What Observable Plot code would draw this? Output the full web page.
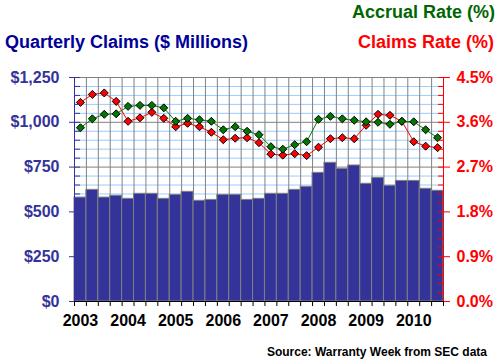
<!DOCTYPE html>
<html><head><meta charset="utf-8">
<script src="https://cdn.jsdelivr.net/npm/d3@7"></script>
<script src="https://cdn.jsdelivr.net/npm/@observablehq/plot@0.6"></script>
<style>
body{margin:0;background:#fff;}
#wrap{position:relative;width:500px;height:363px;font-family:"Liberation Sans",Arial,sans-serif;font-weight:bold;overflow:hidden;}
#chart{position:absolute;left:0;top:0;}
.t{position:absolute;white-space:nowrap;line-height:1;}
</style></head><body>
<div id="wrap">
  <div id="chart"></div>
  <div class="t" style="right:5px;top:3px;font-size:18px;color:#006600;">Accrual Rate (%)</div>
  <div class="t" style="left:5px;top:33px;font-size:18px;color:#000099;">Quarterly Claims ($ Millions)</div>
  <div class="t" style="right:6px;top:33px;font-size:18px;color:#ff0000;">Claims Rate (%)</div>
  <div class="t" style="right:13px;top:346px;font-size:12px;color:#000;">Source: Warranty Week from SEC data</div>
</div>
<script>
const years = ["2003","2004","2005","2006","2007","2008","2009","2010"];
const claims = [580, 623, 580, 590, 573, 601, 601, 573, 595, 612, 562, 567, 595, 595, 567, 573,
                601, 601, 623, 640, 718, 774, 740, 759, 657, 690, 646, 673, 673, 629, 618];
const claimsRate = [4.00, 4.16, 4.19, 4.02, 3.62, 3.69, 3.80, 3.68, 3.51, 3.58, 3.51, 3.40, 3.25, 3.28, 3.29, 3.19,
                    2.96, 2.94, 2.97, 2.93, 3.10, 3.27, 3.29, 3.27, 3.54, 3.76, 3.74, 3.62, 3.21, 3.12, 3.09];
const accrualRate = [3.49, 3.67, 3.76, 3.77, 3.92, 3.94, 3.94, 3.89, 3.62, 3.68, 3.65, 3.62, 3.45, 3.51, 3.42, 3.35,
                     3.11, 3.06, 3.15, 3.21, 3.66, 3.72, 3.67, 3.64, 3.61, 3.60, 3.56, 3.62, 3.61, 3.45, 3.29];
const leftTicks = [0, 250, 500, 750, 1000, 1250];
const rightTicks = [0, 0.9, 1.8, 2.7, 3.6, 4.5];

const leftMax = 1250, rightMax = 4.5;
const k = leftMax / rightMax;
const rows = claims.map((c, i) => ({i, c, cr: claimsRate[i], ar: accrualRate[i]}));
const minorAll = d3.range(50, leftMax + 1, 50);
const minorGrid = minorAll.filter(v => v % 250 !== 0);
const bounds = d3.range(claims.length + 1);
const yearPos = years.map((y, j) => j * 4 + 0.5);

const chart = Plot.plot({
  width: 500, height: 363,
  marginLeft: 74, marginRight: 57, marginTop: 77, marginBottom: 62,
  x: {type: "linear", domain: [0, claims.length], axis: null, label: null},
  y: {domain: [0, leftMax], axis: null, label: null},
  style: {fontFamily: "'Liberation Sans', Arial, sans-serif", fontWeight: "bold", fontSize: "16px", background: "transparent"},
  marks: [
    Plot.gridY(minorGrid, {stroke: "#99ccff", strokeOpacity: 1}),
    Plot.gridY(leftTicks, {stroke: "#808080", strokeOpacity: 1}),
    Plot.gridX(bounds, {stroke: "#808080", strokeOpacity: 1}),
    Plot.rectY(rows, {x1: "i", x2: d => d.i + 1, y: "c", fill: "#333399", stroke: "#808080", strokeWidth: 1}),
    Plot.line(rows, {x: d => d.i + 0.5, y: d => d.cr * k, stroke: "#ff0000", strokeWidth: 1}),
    Plot.dot(rows, {x: d => d.i + 0.5, y: d => d.cr * k, symbol: "diamond2", r: 3.6, fill: "#ff0000", stroke: "#000", strokeWidth: 1}),
    Plot.line(rows, {x: d => d.i + 0.5, y: d => d.ar * k, stroke: "#008000", strokeWidth: 1}),
    Plot.dot(rows, {x: d => d.i + 0.5, y: d => d.ar * k, symbol: "diamond2", r: 3.6, fill: "#007700", stroke: "#000", strokeWidth: 1}),
    Plot.ruleY([0], {stroke: "#000"}),
    Plot.ruleX([0], {stroke: "#333399"}),
    Plot.ruleX([claims.length], {stroke: "#ff0000"}),
    Plot.axisY(leftTicks, {anchor: "left", label: null, tickSize: 5, tickPadding: 10, tickFormat: d => "$" + d3.format(",")(d), color: "#333399", fontSize: 16, fontWeight: "bold"}),
    Plot.axisY(minorAll, {anchor: "right", label: null, frameAnchor: "left", tickSize: 5, tickFormat: () => "", color: "#333399"}),
    Plot.axisY(rightTicks.map(r => r * k), {anchor: "right", label: null, tickSize: 6, tickPadding: 7, tickFormat: v => (v / k).toFixed(1) + "%", color: "#ff0000", fontSize: 16, fontWeight: "bold"}),
    Plot.axisY(minorAll, {anchor: "left", label: null, frameAnchor: "right", tickSize: 5, tickFormat: () => "", color: "#ff0000"}),
    Plot.axisX(bounds, {anchor: "bottom", label: null, tickSize: 5, tickFormat: () => "", color: "#000"}),
    Plot.axisX(yearPos, {anchor: "bottom", label: null, tickSize: 0, tickPadding: 13, tickFormat: v => years[Math.round((v - 0.5) / 4)], color: "#000", fontSize: 16, fontWeight: "bold"})
  ]
});
document.getElementById("chart").appendChild(chart);
</script>
</body></html>
